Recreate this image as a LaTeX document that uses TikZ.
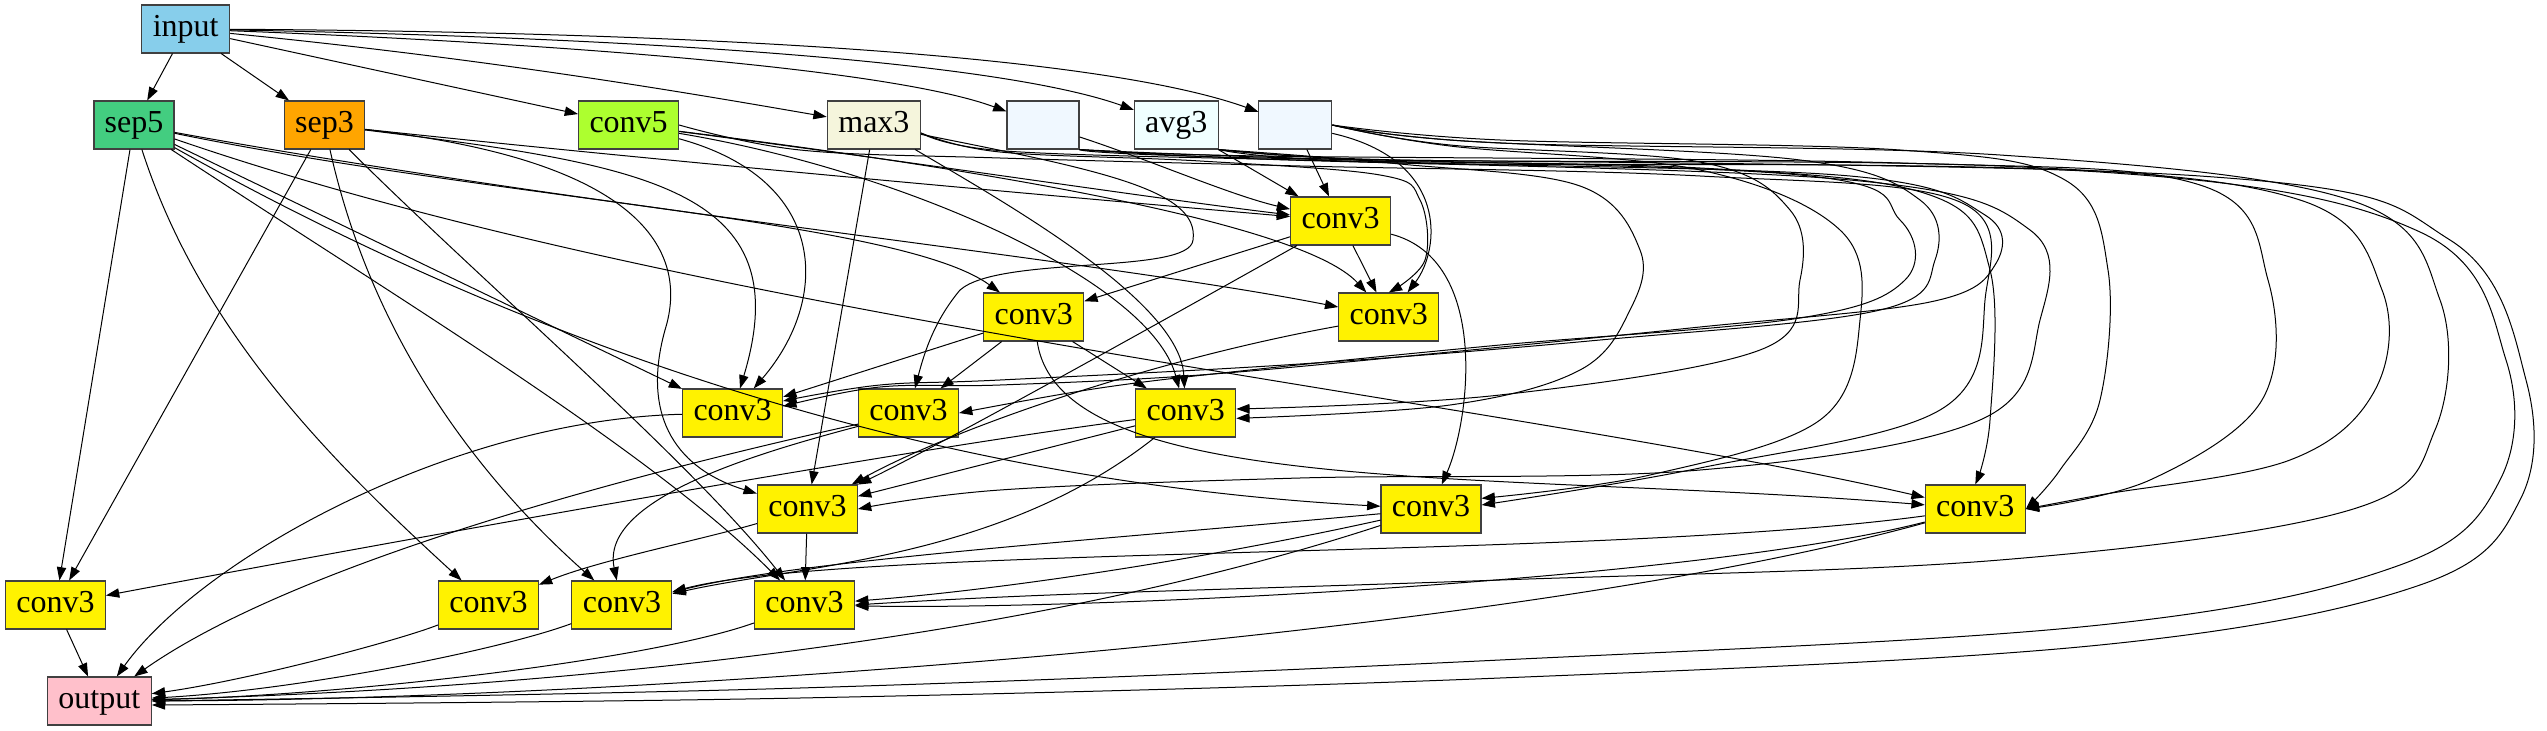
\documentclass[tikz,border=0pt]{standalone}
\usepackage{fontspec}
\setmainfont{Liberation Serif}
\usetikzlibrary{arrows.meta}
\definecolor{cin}{HTML}{87CEEB}
\definecolor{csepfive}{HTML}{43CD80}
\definecolor{csepthree}{HTML}{FFA500}
\definecolor{cconvfive}{HTML}{ADFF2F}
\definecolor{cmax}{HTML}{F5F5DC}
\definecolor{calice}{HTML}{F0F8FF}
\definecolor{cazure}{HTML}{F0FFFF}
\definecolor{cout}{HTML}{FFC0CB}
\begin{document}
\begin{tikzpicture}[x=0.75pt,y=-0.75pt,
  nd/.style={draw=black!75,line width=0.8pt,minimum height=36pt,inner sep=0pt,
    text height=16pt,text depth=5pt,font=\fontsize{24}{28}\selectfont},
  cv/.style={nd,fill=yellow,minimum width=75pt},
  e/.style={line width=0.75pt,-{Triangle[length=10pt,width=7pt]}}]
\useasboundingbox (0,0) rectangle (2547,731);
% nodes
\node[nd,fill=cin,minimum width=66pt] (in) at (185.7,29) {input};
\node[nd,fill=csepfive,minimum width=60pt] (s5) at (134,125) {sep5};
\node[nd,fill=csepthree,minimum width=60pt] (s3) at (324.5,125) {sep3};
\node[nd,fill=cconvfive,minimum width=75pt] (c5) at (628.6,125) {conv5};
\node[nd,fill=cmax,minimum width=70pt] (m3) at (873.9,125) {max3};
\node[nd,fill=calice,minimum width=54pt] (e1) at (1043,125) {};
\node[nd,fill=cazure,minimum width=63pt] (a3) at (1176.3,125) {avg3};
\node[nd,fill=calice,minimum width=54.6pt] (e2) at (1295.3,125) {};
\node[cv] (A) at (1340.6,221) {conv3};
\node[cv] (C) at (1033.7,317) {conv3};
\node[cv] (B) at (1388.8,317) {conv3};
\node[cv] (D) at (732.6,413) {conv3};
\node[cv] (E) at (908.5,413) {conv3};
\node[cv] (F) at (1185.7,413) {conv3};
\node[cv] (G) at (807.4,509) {conv3};
\node[cv] (L) at (1431,509) {conv3};
\node[cv] (M) at (1975.3,509) {conv3};
\node[cv] (I) at (55.4,605) {conv3};
\node[cv] (J) at (488.4,605) {conv3};
\node[cv] (K) at (621.9,605) {conv3};
\node[cv] (H) at (804.5,605) {conv3};
\node[nd,fill=cout,minimum width=78pt] (out) at (99.3,701) {output};
% input
\draw[e] (in) -- (s5);
\draw[e] (in) -- (s3);
\draw[e] (in) -- (c5);
\draw[e] (in) .. controls (500,60) and (700,95) .. (m3);
\draw[e] (in) .. controls (600,45) and (900,72) .. (e1);
\draw[e] (in) .. controls (650,38) and (1000,62) .. (a3);
\draw[e] (in) .. controls (700,32) and (1100,55) .. (e2);
% A
\draw[e] (s3) .. controls (700,165) and (1100,200) .. (A);
\draw[e] (c5) .. controls (900,160) and (1150,198) .. (A);
\draw[e] (e1) .. controls (1150,160) and (1230,195) .. (A);
\draw[e] (a3) -- (A);
\draw[e] (e2) -- (A);
% B
\draw[e] (A) -- (B);
\draw[e] (s5) .. controls (600,210) and (1100,260) .. (B);
\draw[e] (c5) .. controls (950,165) and (1300,220) .. (B);
\draw[e] plot[smooth,tension=0.6] coordinates {([yshift=-6pt]m3.east) (1000,152) (1200,161) (1380,175) (1420,200) (1425,260) (B.north)};
\draw[e] (e2) .. controls (1450,160) and (1440,250) .. (B);
% C
\draw[e] (A) -- (C);
\draw[e] (s5) .. controls (500,200) and (900,220) .. (C);
% D
\draw[e] (s5) -- (D);
\draw[e] (s3) .. controls (650,165) and (800,190) .. (D);
\draw[e] (c5) .. controls (830,180) and (830,300) .. (D);
\draw[e] (C) -- (D);
\draw[e] plot[smooth,tension=0.6] coordinates {(e2.east) (1450,140) (1800,160) (1920,200) (1935,260) (1880,310) (1600,340) (1300,364) (1000,380) (880,385) ([yshift=9pt]D.east)};
\draw[e] plot[smooth,tension=0.6] coordinates {(a3.south east) (1400,162) (1850,176) (1985,215) (1995,265) (1930,302) (1700,327) (1450,352) (1200,375) (1000,385) (880,387) ([yshift=5pt]D.east)};
% E
\draw[e] (C) -- (E);
\draw[e] (m3) .. controls (1100,170) and (1200,190) .. (1193,240) .. controls (1190,275) and (1000,255) .. (960,290) .. controls (935,320) and (925,350) .. (E);
\draw[e] plot[smooth,tension=0.6] coordinates {(e1.south east) (1260,157) (1800,175) (1900,220) (1905,280) (1800,318) (1500,345) (1250,370) (1100,388) (E.east)};
% F
\draw[e] (C) -- (F);
\draw[e] (c5) .. controls (900,170) and (1150,280) .. (F);
\draw[e] (m3) .. controls (1000,200) and (1180,300) .. (F);
\draw[e] plot[smooth,tension=0.6] coordinates {(e2.east) (1450,145) (1700,162) (1790,210) (1800,280) (1760,350) (1500,395) ([yshift=3pt]F.east)};
\draw[e] plot[smooth,tension=0.6] coordinates {(a3.south east) (1400,164) (1580,186) (1640,250) (1630,310) (1580,370) (1450,405) ([yshift=-4pt]F.east)};
% G
\draw[e] (m3) -- (G);
\draw[e] (s3) .. controls (640,160) and (690,250) .. (665,330) .. controls (640,420) and (680,470) .. (G);
\draw[e] (A) .. controls (1200,300) and (950,440) .. (G);
\draw[e] (B) .. controls (1150,360) and (950,430) .. (G);
\draw[e] (F) -- (G);
\draw[e] plot[smooth,tension=0.6] coordinates {(e1.south east) (1260,159) (1850,180) (2030,230) (2040,320) (1980,420) (1700,470) (1300,478) (1000,490) (G.east)};
% L
\draw[e] (A) .. controls (1490,260) and (1470,420) .. (L);
\draw[e] (s5) .. controls (500,330) and (900,480) .. (L);
\draw[e] plot[smooth,tension=0.6] coordinates {(e2.east) (1450,146) (1700,170) (1840,230) (1860,320) (1820,420) (1650,475) ([yshift=8pt]L.east)};
\draw[e] plot[smooth,tension=0.6] coordinates {(c5.east) (800,150) (1000,158) (1300,166) (1700,176) (1960,202) (1985,300) (1940,410) (1700,468) ([yshift=3pt]L.east)};
% M
\draw[e] (C) .. controls (1060,500) and (1500,470) .. (M);
\draw[e] (s5) .. controls (700,320) and (1500,400) .. (M);
\draw[e] plot[smooth,tension=0.6] coordinates {([yshift=-6pt]m3.east) (1005,151) (1300,160) (1700,168) (1930,195) (1990,270) (1990,420) (M.north)};
\draw[e] plot[smooth,tension=0.6] coordinates {(e2.east) (1500,140) (1900,150) (2065,180) (2108,270) (2100,400) (2060,470) (M.east)};
\draw[e] plot[smooth,tension=0.6] coordinates {(e1.south east) (1260,156) (1900,163) (2200,185) (2268,280) (2262,400) (2150,480) (M.east)};
\draw[e] plot[smooth,tension=0.6] coordinates {(a3.south east) (1400,160) (2000,166) (2300,200) (2382,290) (2375,390) (2290,460) (2100,495) (M.east)};
% I
\draw[e] (s5) -- (I);
\draw[e] (s3) -- (I);
\draw[e] (F) .. controls (900,450) and (400,540) .. (I);
% J
\draw[e] (s5) .. controls (200,330) and (330,460) .. (J);
\draw[e] (G) .. controls (700,540) and (600,560) .. (J);
% K
\draw[e] (s3) .. controls (370,330) and (470,470) .. (K);
\draw[e] (E) .. controls (750,455) and (600,500) .. (K);
\draw[e] (F) .. controls (1000,560) and (800,565) .. (K);
\draw[e] (L) .. controls (1100,540) and (800,560) .. (K);
\draw[e] (M) .. controls (1600,560) and (850,545) .. (K);
% H
\draw[e] (G) -- (H);
\draw[e] (s5) .. controls (400,300) and (650,450) .. (H);
\draw[e] (s3) .. controls (480,280) and (690,460) .. (H);
\draw[e] (L) .. controls (1200,560) and (1000,590) .. (H);
\draw[e] (M) .. controls (1700,580) and (1100,610) .. (H);
\draw[e] plot[smooth,tension=0.6] coordinates {(e2.east) (1500,143) (2000,155) (2350,200) (2440,300) (2435,430) (2350,510) (2000,560) (1500,580) (1050,595) (H.east)};
% output
\draw[e] (I) -- (out);
\draw[e] (J) .. controls (400,640) and (250,680) .. (out);
\draw[e] (K) .. controls (500,650) and (300,690) .. (out);
\draw[e] (H) .. controls (650,660) and (350,695) .. (out);
\draw[e] (D) .. controls (450,420) and (200,560) .. (out);
\draw[e] (E) .. controls (650,470) and (300,560) .. (out);
\draw[e] (L) .. controls (1000,650) and (500,690) .. (out);
\draw[e] (M) .. controls (1500,640) and (600,700) .. (out);
\draw[e] plot[smooth,tension=0.6] coordinates {(a3.south east) (1400,163) (2100,172) (2420,232) (2506,360) (2500,480) (2400,565) (2100,625) (1500,660) (800,688) (out.east)};
\draw[e] plot[smooth,tension=0.6] coordinates {(e1.south east) (1260,158) (2200,176) (2450,240) (2526,380) (2520,500) (2420,585) (2100,645) (1500,678) (800,698) ([yshift=-3pt]out.east)};
\end{tikzpicture}
\end{document}
